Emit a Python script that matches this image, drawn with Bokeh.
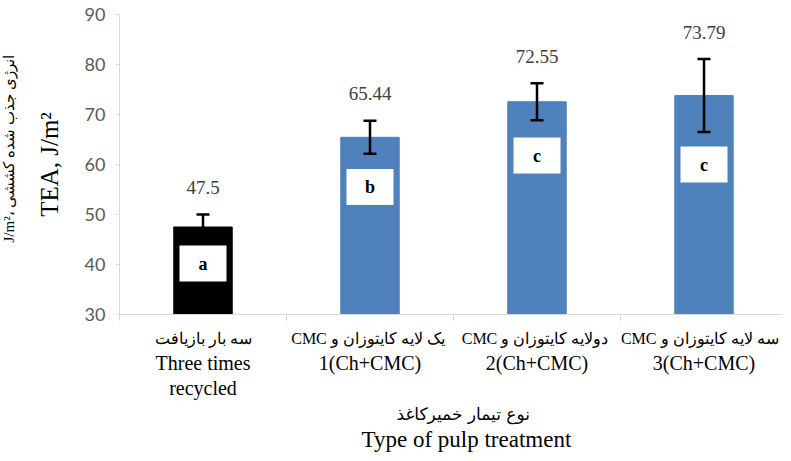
import numpy as np
from bokeh.plotting import figure
from bokeh.models import (ColumnDataSource, LabelSet, Whisker, TeeHead,
                          FixedTicker, Range1d, LinearAxis, Title,
                          CustomJSTickFormatter)
from bokeh.core.properties import value
from bokeh.embed import file_html
from bokeh.resources import INLINE

# ---- data ----
cat_fa = ["سه بار بازیافت", "یک لایه کایتوزان و", "دولایه کایتوزان و", "سه لایه کایتوزان و"]
cat_cmc = ["", "CMC", "CMC", "CMC"]
cat_en1 = ["Three times", "1(Ch+CMC)", "2(Ch+CMC)", "3(Ch+CMC)"]
cat_en2 = ["recycled", "", "", ""]
tea = [47.5, 65.44, 72.55, 73.79]
tea_err = [2.5, 3.3, 3.7, 7.3]
groups = ["a", "b", "c", "c"]
group_box_y = [40.2, 55.5, 61.8, 60.0]
bar_colors = ["#000000", "#4F81BD", "#4F81BD", "#4F81BD"]
y_ticks = [30, 40, 50, 60, 70, 80, 90]
x_title_fa = "نوع تیمار خمیرکاغذ"
x_title_en = "Type of pulp treatment"
y_title_en = "TEA, J/m²"
y_title_fa = "J/m²، انرژی جذب شده کششی"

n = len(tea)
xc = [i + 0.5 for i in range(n)]
line1 = [(c + "  " + f) if c else f for c, f in zip(cat_cmc, cat_fa)]

src = ColumnDataSource(dict(
    x=xc, top=tea, color=bar_colors,
    upper=[v + e for v, e in zip(tea, tea_err)],
    lower=[v - e for v, e in zip(tea, tea_err)],
    lbl=[str(v) for v in tea],
    gy=group_box_y, g=groups,
))

W, H = 782, 453
p = figure(width=W, height=H, output_backend="svg", toolbar_location=None,
           x_range=Range1d(0, 3.97), y_range=Range1d(30, 90),
           min_border_left=117, min_border_right=0, min_border_top=14,
           min_border_bottom=139)
p.outline_line_color = None
p.xgrid.visible = False
p.ygrid.visible = False
p.background_fill_color = "white"
p.border_fill_color = "white"

serif = value("Liberation Serif")

# bars
p.vbar(x="x", top="top", bottom=30, width=0.35, fill_color="color",
       line_color="color", source=src)

# group letter boxes
p.rect(x="x", y="gy", width=47, height=36, width_units="screen",
       height_units="screen", fill_color="white", line_color=None, source=src)
p.text(x="x", y="gy", text="g", text_font=serif, text_font_size="18px",
       text_font_style="bold", text_align="center", text_baseline="middle",
       text_color="black", source=src)

# error bars
wh = Whisker(base="x", upper="upper", lower="lower", source=src,
             line_color="black", line_width=2.5, level="overlay",
             upper_head=TeeHead(size=13, line_width=2.5, line_color="black"),
             lower_head=TeeHead(size=13, line_width=2.5, line_color="black"))
p.add_layout(wh)

# value labels
p.add_layout(LabelSet(x="x", y="upper", text="lbl", source=src, y_offset=27,
                      text_font=serif, text_font_size="19px", text_color="#404040",
                      text_align="center", text_baseline="middle"))

# main x axis: ticks at category boundaries, no labels
ax = p.xaxis[0]
ax.ticker = FixedTicker(ticks=list(range(n + 1)))
ax.formatter = CustomJSTickFormatter(code="return '';")
ax.major_label_text_font_size = "1px"
ax.major_label_standoff = 0
ax.axis_line_color = "#D9D9D9"
ax.major_tick_line_color = "#D9D9D9"
ax.major_tick_out = 6
ax.major_tick_in = 0
ax.minor_tick_line_color = None

ay = p.yaxis[0]
ay.ticker = FixedTicker(ticks=y_ticks)
ay.axis_line_color = "#D9D9D9"
ay.major_tick_line_color = "#D9D9D9"
ay.major_tick_out = 4
ay.major_tick_in = 0
ay.minor_tick_line_color = None
ay.major_label_text_font = "Lato"
ay.major_label_text_font_size = "18px"
ay.major_label_text_color = "#595959"
ay.major_label_standoff = 10


def label_axis(labels, font_size, standoff):
    a = LinearAxis(ticker=FixedTicker(ticks=xc),
                   formatter=CustomJSTickFormatter(args=dict(labels=labels),
                                                   code="return labels[Math.floor(tick)];"))
    a.axis_line_color = None
    a.major_tick_line_color = None
    a.minor_tick_line_color = None
    a.major_tick_out = 0
    a.major_tick_in = 0
    a.major_label_standoff = standoff
    a.major_label_text_font = "Liberation Serif"
    a.major_label_text_font_size = font_size
    a.major_label_text_color = "black"
    p.add_layout(a, "below")
    return a


label_axis(line1, "16px", 9)
label_axis(cat_en1, "20px", 2)
label_axis(cat_en2, "20px", 0)

# x axis titles
p.add_layout(Title(text=x_title_fa, align="left", offset=277, text_font="DejaVu Sans",
                   text_font_size="17px", text_font_style="normal",
                   text_color="black", standoff=0), "below")
p.add_layout(Title(text=x_title_en, align="left", offset=242, text_font="Liberation Serif",
                   text_font_size="23px", text_font_style="normal",
                   text_color="black", standoff=3), "below")

# y axis titles
p.add_layout(Title(text=y_title_en, align="center", text_font="Liberation Serif",
                   text_font_size="25px", text_font_style="normal",
                   text_color="black", standoff=38), "left")
p.add_layout(Title(text=y_title_fa, align="left", offset=72, text_font="Liberation Serif",
                   text_font_size="15px", text_font_style="normal",
                   text_color="black", standoff=-4), "left")

open("out.html", "w").write(file_html(p, INLINE))
